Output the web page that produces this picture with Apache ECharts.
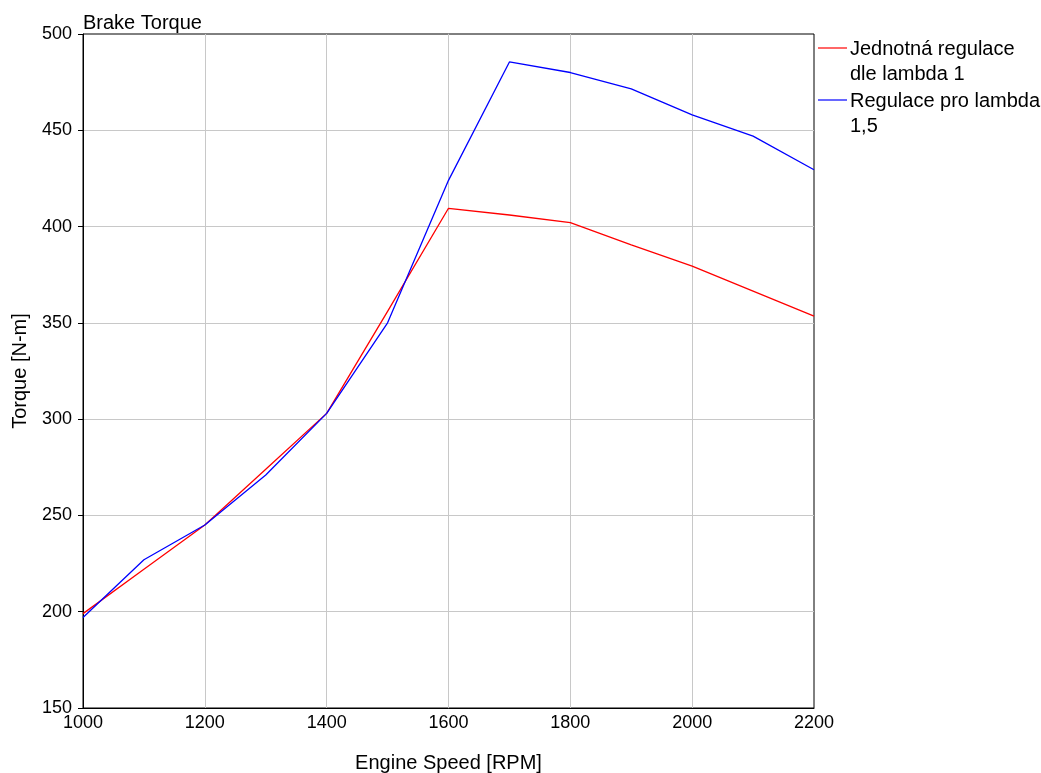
<!DOCTYPE html>
<html>
<head>
<meta charset="utf-8">
<script src="https://cdn.jsdelivr.net/npm/echarts@6/dist/echarts.min.js"></script>
<style>
  html, body { margin: 0; padding: 0; background: #fff; }
  #chart { width: 1041px; height: 773px; }
</style>
</head>
<body>
<div id="chart"></div>
<script>
  // engine speed [RPM]
  const rpm = [1000, 1100, 1200, 1300, 1400, 1500, 1600, 1700, 1800, 1900, 2000, 2100, 2200];
  // Jednotná regulace dle lambda 1
  const torqueLambda1 = [199, 222, 245, 274, 303, 356, 409.5, 406, 402, 390.5, 379.5, 366.5, 353.5];
  // Regulace pro lambda 1,5
  const torqueLambda15 = [197, 227, 245, 271, 303, 350, 424, 485.5, 480, 471.5, 458, 447, 429.5];
  const seriesNames = ['Jednotná regulace\ndle lambda 1', 'Regulace pro lambda\n1,5'];
  const seriesColors = ['#ff0000', '#0000ff'];

  const font = 'Liberation Sans, Arial, sans-serif';
  let chart = echarts.init(document.getElementById('chart'));

  let pairs = (ys) => rpm.map((x, i) => [x, ys[i]]);

  let option = {
    animation: false,
    backgroundColor: '#fff',
    title: {
      text: 'Brake Torque',
      left: 78,
      top: 8,
      textStyle: { fontFamily: font, fontSize: 20, fontWeight: 'normal', color: '#000' }
    },
    grid: {
      left: 83, top: 34, right: 227, bottom: 65,
      outerBoundsMode: 'none',
      containLabel: false,
      show: true, borderColor: '#000', borderWidth: 1
    },
    xAxis: {
      type: 'value',
      min: 1000, max: 2200, interval: 200,
      name: 'Engine Speed [RPM]',
      nameLocation: 'middle',
      nameGap: 45,
      nameTextStyle: { fontFamily: font, fontSize: 20, color: '#000' },
      axisLine: { lineStyle: { color: '#000' } },
      axisTick: { show: false },
      axisLabel: { fontFamily: font, fontSize: 18, color: '#000', margin: 6, formatter: (v) => String(v) },
      splitLine: { showMinLine: false, showMaxLine: false, lineStyle: { color: '#c8c8c8' } }
    },
    yAxis: {
      type: 'value',
      min: 150, max: 500, interval: 50,
      name: 'Torque [N-m]',
      nameLocation: 'middle',
      nameGap: 53,
      nameTextStyle: { fontFamily: font, fontSize: 20, color: '#000' },
      axisLine: { show: true, lineStyle: { color: '#000' } },
      axisTick: { show: true, length: 5, lineStyle: { color: '#000' } },
      axisLabel: { fontFamily: font, fontSize: 18, color: '#000', margin: 11 },
      splitLine: { showMinLine: false, showMaxLine: false, lineStyle: { color: '#c8c8c8' } }
    },
    series: [
      {
        name: seriesNames[0],
        type: 'line',
        data: pairs(torqueLambda1),
        showSymbol: false,
        lineStyle: { color: seriesColors[0], width: 1.3 },
        itemStyle: { color: seriesColors[0] }
      },
      {
        name: seriesNames[1],
        type: 'line',
        data: pairs(torqueLambda15),
        showSymbol: false,
        lineStyle: { color: seriesColors[1], width: 1.3 },
        itemStyle: { color: seriesColors[1] }
      }
    ],
    graphic: [
      { type: 'line', shape: { x1: 818, y1: 48, x2: 847, y2: 48 }, style: { stroke: seriesColors[0], lineWidth: 1.2 } },
      { type: 'text', left: 850, top: 37, style: { text: seriesNames[0], fill: '#000', font: '20px ' + font, lineHeight: 25 } },
      { type: 'line', shape: { x1: 818, y1: 100, x2: 847, y2: 100 }, style: { stroke: seriesColors[1], lineWidth: 1.2 } },
      { type: 'text', left: 850, top: 89, style: { text: seriesNames[1], fill: '#000', font: '20px ' + font, lineHeight: 25 } }
    ]
  };
  chart.setOption(option);
</script>
</body>
</html>
